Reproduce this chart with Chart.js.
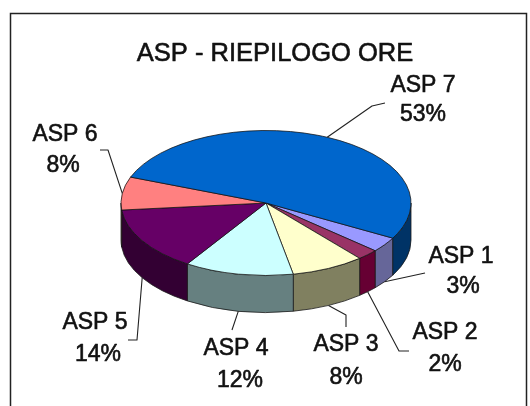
<!DOCTYPE html>
<html><head><meta charset="utf-8">
<style>html,body{margin:0;padding:0;background:#fff;overflow:hidden}canvas{display:block;filter:blur(0.5px)}</style>
<script src="https://cdn.jsdelivr.net/npm/chart.js@4"></script>
</head><body><canvas id="c" width="530" height="406"></canvas>
<script>
const titleText = "ASP - RIEPILOGO ORE";
const categories = ["ASP 1","ASP 2","ASP 3","ASP 4","ASP 5","ASP 6","ASP 7"];
const values = [3.4,2.4,8.2,12.2,14.4,7.4,52.5];
const percentLabels = ["3%","2%","8%","12%","14%","8%","53%"];
const topColors = ["#9999ff","#993366","#ffffcc","#ccffff","#660066","#ff8080","#0066cc"];
const wallColors = ["#666699","#660033","#808060","#668080","#330033","#804040","#003366"];
const labelAnchors = [[461,257,463,287],[445,333,445,365],[346,345,346,378],[236,349,240,381],[95,323,98,355],[65,135,63,166],[423,86,423,115]];
const leaderBends = [[[425,273]],[[399,351],[409,351]],[[346,315],[346,327]],[[232,330]],[[137,340],[128,340]],[[108,150],[100,150]],[[372,106],[385,103]]];
const SQUASH = 0.5, DEPTH = 37;

const pie3d = {
  id:'pie3d',
  beforeDraw(chart){
    const c = chart.ctx; c.save();
    c.fillStyle='#fff'; c.fillRect(0,0,530,406);
    c.strokeStyle='#222'; c.lineWidth=1.5;
    c.beginPath(); c.moveTo(10.5,406); c.lineTo(10.5,13.5); c.lineTo(526.5,13.5); c.lineTo(526.5,406); c.stroke();
    c.restore();
  },
  beforeDatasetDraw(chart,args){
    const c = chart.ctx, TAU = Math.PI*2;
    args.meta.data.forEach((arc,i)=>{
      for(let k=-1;k<=1;k++){
        const a=Math.max(arc.startAngle+k*TAU,0), b=Math.min(arc.endAngle+k*TAU,Math.PI);
        if(b<=a) continue;
        const R=arc.outerRadius;
        c.beginPath();
        c.ellipse(arc.x,arc.y,R,R*SQUASH,0,a,b);
        c.ellipse(arc.x,arc.y+DEPTH,R,R*SQUASH,0,b,a,true);
        c.closePath();
        c.fillStyle=wallColors[i]; c.fill();
        c.strokeStyle='#1a1a1a'; c.lineWidth=0.8; c.stroke();
      }
    });
    c.save();
    const a0=args.meta.data[0];
    c.translate(0,a0.y); c.scale(1,SQUASH); c.translate(0,-a0.y);
  },
  afterDatasetDraw(chart){ chart.ctx.restore(); },
  afterDraw(chart){
    const c=chart.ctx, arcs=chart.getDatasetMeta(0).data;
    c.save();
    c.fillStyle='#111'; c.textAlign='center'; c.textBaseline='middle';
    c.strokeStyle='#111'; c.lineJoin='round';
    const put=(t,x,y)=>{c.lineWidth=0.6;c.strokeText(t,x,y);c.fillText(t,x,y);};
    c.font='25.5px "Liberation Sans"';
    put(titleText,275,54);
    arcs.forEach((arc,i)=>{
      const m=(arc.startAngle+arc.endAngle)/2, R=arc.outerRadius;
      const sy=Math.sin(m);
      const sx0=arc.x+R*Math.cos(m), sy0=arc.y+R*SQUASH*sy+(sy>0?DEPTH:0);
      c.beginPath(); c.moveTo(sx0,sy0);
      leaderBends[i].forEach(p=>c.lineTo(p[0],p[1]));
      c.strokeStyle='#222'; c.lineWidth=1.1; c.stroke();
      c.strokeStyle='#111';
      const p=labelAnchors[i];
      c.font='23px "Liberation Sans"';
      put(categories[i],p[0],p[1]);
      put(percentLabels[i],p[2],p[3]);
    });
    c.restore();
  }
};

new Chart(document.getElementById('c'),{
  type:'pie',
  data:{labels:categories,datasets:[{data:values,backgroundColor:topColors,borderColor:'#111',borderWidth:1,clip:false}]},
  options:{
    responsive:false,animation:false,rotation:119,
    layout:{padding:{left:120.5,right:118.5,top:57.5,bottom:57.5}},
    plugins:{legend:{display:false},title:{display:false},tooltip:{enabled:false}}
  },
  plugins:[pie3d]
});
</script></body></html>
